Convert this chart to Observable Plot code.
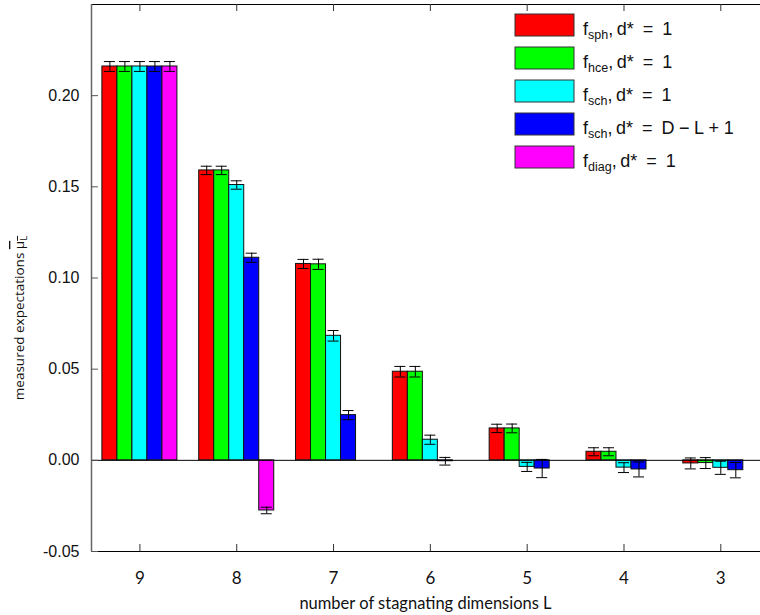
<!DOCTYPE html>
<html>
<head>
<meta charset="utf-8">
<script src="https://cdn.jsdelivr.net/npm/d3@7"></script>
<script src="https://cdn.jsdelivr.net/npm/@observablehq/plot@0.6"></script>
<style>
  body { margin: 0; background: #fff; }
  #chart { position: relative; width: 760px; height: 615px; }
</style>
</head>
<body>
<div id="chart"></div>
<script>
// Number of stagnating dimensions L (one cluster of bars per value)
const groups = [9, 8, 7, 6, 5, 4, 3];

// Mean measured expectation per L and its error, one pair of arrays per variant
const sph     = [0.216, 0.159, 0.1077, 0.0486, 0.0175, 0.0047, -0.0017];
const sphErr  = [0.0027, 0.0023, 0.0025, 0.0029, 0.0023, 0.0022, 0.0030];
const hce     = [0.216, 0.159, 0.1075, 0.0486, 0.0175, 0.0047, -0.0015];
const hceErr  = [0.0027, 0.0023, 0.0028, 0.0029, 0.0024, 0.0022, 0.0030];
const sch     = [0.216, 0.151, 0.0683, 0.0113, -0.0036, -0.0040, -0.0041];
const schErr  = [0.0027, 0.0023, 0.0029, 0.0025, 0.0025, 0.0027, 0.0036];
const schD    = [0.216, 0.1111, 0.0248, -0.0005, -0.0045, -0.0050, -0.0054];
const schDErr = [0.0027, 0.0025, 0.0025, 0.0021, 0.0050, 0.0041, 0.0042];
const diag    = [0.216, -0.0275, 0, 0, 0, 0, 0];
const diagErr = [0.0027, 0.0018, null, null, null, null, null];

const yTicks = [-0.05, 0, 0.05, 0.10, 0.15, 0.20];

const series = [
  {values: sph,  err: sphErr,  color: "#ff0000", name: "sph",  rhs: "1"},
  {values: hce,  err: hceErr,  color: "#00ff00", name: "hce",  rhs: "1"},
  {values: sch,  err: schErr,  color: "#00ffff", name: "sch",  rhs: "1"},
  {values: schD, err: schDErr, color: "#0000ff", name: "sch",  rhs: "D\u2005\u2212\u2005L\u2005+\u20051"},
  {values: diag, err: diagErr, color: "#ff00ff", name: "diag", rhs: "1"}
];

// cluster layout in units of the group index
const barW = 0.155;
const capHalf = 0.057;

const rows = groups.flatMap((L, i) => series.map((s, j) => {
  const x1 = i + (j - series.length / 2) * barW;
  return {L, i, j, x1, x2: x1 + barW, xc: x1 + barW / 2,
          value: s.values[i], err: s.err[i], color: s.color};
}));
const errRows = rows.filter(d => d.err != null);

const W = 760, H = 615;
const mL = 91, mR = 0, mT = 4, mB = 64;
const innerW = W - mL - mR, innerH = H - mT - mB;
const xDomain = [-0.5, 6.41];
const yDomain = [-0.05, 0.25];

const plot = Plot.plot({
  width: W, height: H,
  marginLeft: mL, marginRight: mR, marginTop: mT, marginBottom: mB,
  x: {domain: xDomain, axis: null},
  y: {domain: yDomain, axis: null},
  style: {background: "white", overflow: "visible"},
  marks: [
    Plot.rect(rows, {x1: "x1", x2: "x2", y1: 0, y2: "value", fill: "color",
                     stroke: "#111", strokeWidth: 1}),
    Plot.ruleY([0], {stroke: "black", strokeWidth: 1}),
    // error bars with caps
    Plot.ruleX(errRows, {x: "xc", y1: d => d.value - d.err, y2: d => d.value + d.err,
                         stroke: "black", strokeWidth: 1}),
    Plot.ruleY(errRows, {y: d => d.value - d.err, x1: d => d.xc - capHalf, x2: d => d.xc + capHalf,
                         stroke: "black", strokeWidth: 1}),
    Plot.ruleY(errRows, {y: d => d.value + d.err, x1: d => d.xc - capHalf, x2: d => d.xc + capHalf,
                         stroke: "black", strokeWidth: 1}),
    // frame
    Plot.ruleY([yDomain[1]], {stroke: "black", strokeWidth: 1}),
    Plot.ruleY([yDomain[0]], {stroke: "black", strokeWidth: 1}),
    Plot.ruleX([xDomain[0]], {stroke: "#666", strokeWidth: 1.5}),
    // inward ticks
    Plot.tickY(yTicks, {y: d => d, insetRight: innerW - 7, stroke: "#555"}),
    Plot.tickX(d3.range(groups.length), {x: d => d, insetTop: innerH - 7, stroke: "#333"}),
    Plot.tickX(d3.range(groups.length), {x: d => d, insetBottom: innerH - 7, stroke: "#333"}),
    // tick labels
    Plot.axisY(yTicks, {tickSize: 0, tickPadding: 12, tickFormat: d => d.toFixed(2),
                        fontSize: 16, fontFamily: "Liberation Sans, Arial, sans-serif",
                        fill: "#111", label: null}),
    Plot.axisX(d3.range(groups.length), {tickSize: 0, tickPadding: 20, tickFormat: i => String(groups[i]),
                        fontSize: 17, fontFamily: "Lato, sans-serif", fill: "#111", label: null})
  ]
});

document.getElementById("chart").appendChild(plot);

const svg = d3.select(plot);

// x-axis title
svg.append("text")
  .attr("x", mL + innerW / 2).attr("y", 609)
  .attr("text-anchor", "middle")
  .attr("font-family", "Lato, sans-serif").attr("font-size", 16.5).attr("fill", "#111")
  .text("number of stagnating dimensions L");

// y-axis title with overlined mu_L
const yl = svg.append("text")
  .attr("transform", "translate(24,318) rotate(-90)")
  .attr("text-anchor", "middle")
  .attr("font-family", "Open Sans, sans-serif").attr("font-size", 13.5).attr("fill", "#111");
yl.append("tspan").text("measured expectations ");
const mu = yl.append("tspan").style("text-decoration", "overline");
mu.append("tspan").text("\u03bc");
mu.append("tspan").attr("font-size", 9.5).attr("dy", 3).text("L");

// legend
const lg = svg.append("g")
  .attr("text-anchor", "start")
  .style("font-family", "'Liberation Sans', Arial, sans-serif")
  .style("font-size", "18px")
  .attr("fill", "#111");
series.forEach((s, r) => {
  const y0 = 14 + 33 * r;
  lg.append("rect").attr("x", 515).attr("y", y0).attr("width", 59).attr("height", 22)
    .attr("fill", s.color).attr("stroke", "#333").attr("stroke-width", 1);
  const t = lg.append("text").attr("x", 583).attr("y", y0 + 21).attr("text-anchor", "start");
  t.append("tspan").text("f");
  t.append("tspan").style("font-size", "12.5px").attr("dy", 4).text(s.name);
  t.append("tspan").attr("dy", -4).text(",\u2009d*\u2002=\u2002" + s.rhs);
});
</script>
</body>
</html>
